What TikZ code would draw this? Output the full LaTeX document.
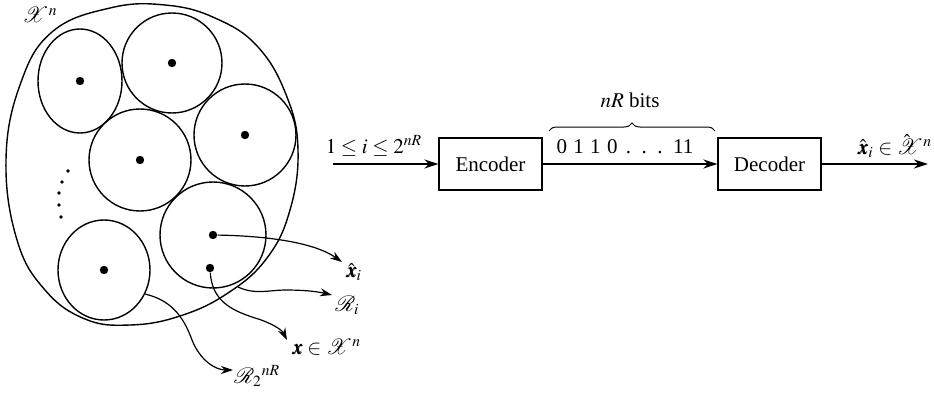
\documentclass[tikz,border=0pt]{standalone}
\usepackage{mathptmx}
\usepackage{fontspec}
\setmainfont{Liberation Serif}
\usepackage{bm}
\usepackage{mathrsfs}
\usetikzlibrary{calc, decorations.pathreplacing, arrows.meta}

\begin{document}
\begin{tikzpicture}[x=0.5pt, y=-0.5pt, font=\fontsize{10.5pt}{12.6pt}\selectfont]
  \tikzstyle{dot} = [circle, fill, inner sep=0, minimum size=4.2pt]
  \tikzstyle{region} = [line width=0.7pt]
  \tikzstyle{block} = [draw, line width=0.6pt, minimum width=51.5pt, minimum height=26pt, inner sep=0]
  \tikzstyle{flow} = [line width=1.2pt, -{Stealth[length=7pt, width=4.5pt]}]
  \tikzstyle{tag} = [line width=0.6pt, -{Stealth[length=6pt, width=4pt]}]
  \useasboundingbox (0,0) rectangle (934,396);

  % the space X^n and its decoding regions
  \draw[region] plot[smooth cycle, tension=0.7] coordinates {(6,160) (20,85) (52,32) (110,8) (165,5) (215,18) (258,47) (287,97) (298,150) (290,210) (267,258) (228,293) (180,316) (130,325) (85,319) (45,290) (17,240)};
  \node (space) at (40,15) {$\mathscr{X}^n$};
  \draw[region] (80,81) ellipse [x radius=42, y radius=52];
  \draw[region] (172,63) circle [radius=50];
  \draw[region] (245,135) circle [radius=51];
  \draw[region] (140,160) circle [radius=51];
  \draw[region] (213,235) circle [radius=53];
  \draw[region] (104,270) ellipse [x radius=46, y radius=50];
  \node[dot] (c1) at (80,81) {};
  \node[dot] (c2) at (172,63) {};
  \node[dot] (c3) at (245,135) {};
  \node[dot] (c4) at (140,160) {};
  \node[dot] (c5) at (213,235) {};
  \node[dot] (x5) at (210,268) {};
  \node[dot] (c6) at (104,270) {};
  \foreach \p in {(68,171), (62,182), (59,193), (59,205), (61,217)}
    \fill \p circle [radius=1.8];

  % labels of the regions
  \coordinate (r5) at (238,287);
  \coordinate (r6) at (145,294);
  \coordinate (txh) at (342,262);
  \coordinate (tr) at (332,295);
  \coordinate (tx) at (287,340);
  \coordinate (tr6) at (233,370);
  \node[anchor=west, inner sep=1pt] (xh) at (344,272) {$\hat{\bm{x}}_i$};
  \node[anchor=west, inner sep=1pt] (ri) at (333,305) {$\mathscr{R}_i$};
  \node[anchor=west, inner sep=1pt] (xs) at (290,347) {$\bm{x} \in \mathscr{X}^n$};
  \node[anchor=west, inner sep=1pt] (rl) at (232,376) {$\mathscr{R}_{2}{}^{nR}$};
  \draw[tag] (c5) .. controls (270,236) and (315,243) .. (txh);
  \draw[tag] (r5) .. controls (255,295) and (270,290) .. (285,290) .. controls (300,290) and (315,291) .. (tr);
  \draw[tag] (x5) .. controls (212,300) and (230,310) .. (255,318) .. controls (272,323) and (282,330) .. (tx);
  \draw[tag] (r6) .. controls (170,300) and (183,315) .. (192,340) .. controls (200,360) and (215,370) .. (tr6);

  % encoder and decoder
  \node[block] (enc) at (490.5,164) {Encoder};
  \node[block] (dec) at (769.5,164) {Decoder};
  \coordinate (in) at (333,164);
  \coordinate (out) at (928,164);
  \draw[flow] (in) -- (enc);
  \draw[flow] (enc) -- (dec);
  \draw[flow] (dec) -- (out);
  \node (idx) at (374,146) {$1 \leq i \leq 2^{nR}$};
  \node (bits) at (625,147) {0\hspace{0.3em}1\hspace{0.3em}1\hspace{0.3em}0\hspace{0.4em}.\hspace{0.5em}.\hspace{0.5em}.\hspace{0.5em}11};
  \draw[line width=0.5pt, decorate, decoration={brace, amplitude=4pt}] (549,131) -- (715,131);
  \node (nr) at (630,100) {$nR$ bits};
  \node (est) at (895,146) {$\hat{\bm{x}}_i \in \skew{-5}{\hat}{\mathscr{X}}^n$};
\end{tikzpicture}
\end{document}
